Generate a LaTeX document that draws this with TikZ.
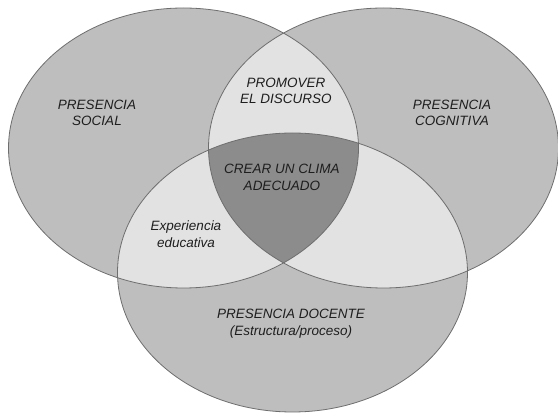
\documentclass[tikz,border=0pt]{standalone}
\usepackage{fontspec}
\setmainfont{Liberation Sans}
\setsansfont{Liberation Sans}
\definecolor{vnone}{HTML}{BEBEBE}
\definecolor{vtwo}{HTML}{E2E2E2}
\definecolor{vthree}{HTML}{8C8C8C}
\definecolor{vedge}{HTML}{6E6E6E}
\definecolor{vink}{HTML}{1E1E1E}
\tikzset{
  lbl/.style={align=center, text=vink, font=\sffamily\itshape\fontsize{13.5}{16.5}\selectfont, inner sep=0pt},
  rim/.style={draw=vedge, line width=0.8pt}
}
\begin{document}
\begin{tikzpicture}[x=1pt,y=-1pt]
\useasboundingbox (0,0) rectangle (558,414);
\def\EL{(183.5,148) ellipse [x radius=175pt, y radius=140pt]}
\def\ER{(383.5,148) ellipse [x radius=175pt, y radius=140pt]}
\def\EB{(292.5,272.5) ellipse [x radius=175pt, y radius=139.5pt]}
% single regions
\fill[vnone] \EL;
\fill[vnone] \ER;
\fill[vnone] \EB;
% pairwise overlaps
\begin{scope}
  \clip \EL;
  \fill[vtwo] \ER;
  \fill[vtwo] \EB;
\end{scope}
\begin{scope}
  \clip \ER;
  \fill[vtwo] \EB;
\end{scope}
% triple overlap
\begin{scope}
  \clip \EL;
  \clip \ER;
  \fill[vthree] \EB;
\end{scope}
% outlines
\draw[rim] \EL;
\draw[rim] \ER;
\draw[rim] \EB;
% labels
\node[lbl] (social) at (97,113) {PRESENCIA\\SOCIAL};
\node[lbl] (promover) at (286,91) {PROMOVER\\EL DISCURSO};
\node[lbl] (cognitiva) at (452,113) {PRESENCIA\\COGNITIVA};
\node[lbl] (clima) at (282,177.5) {CREAR UN CLIMA\\ADECUADO};
\node[lbl] (experiencia) at (186,234) {Experiencia\\educativa};
\node[lbl] (docente) at (291,323.5) {PRESENCIA DOCENTE\\(Estructura/proceso)};
\end{tikzpicture}
\end{document}
